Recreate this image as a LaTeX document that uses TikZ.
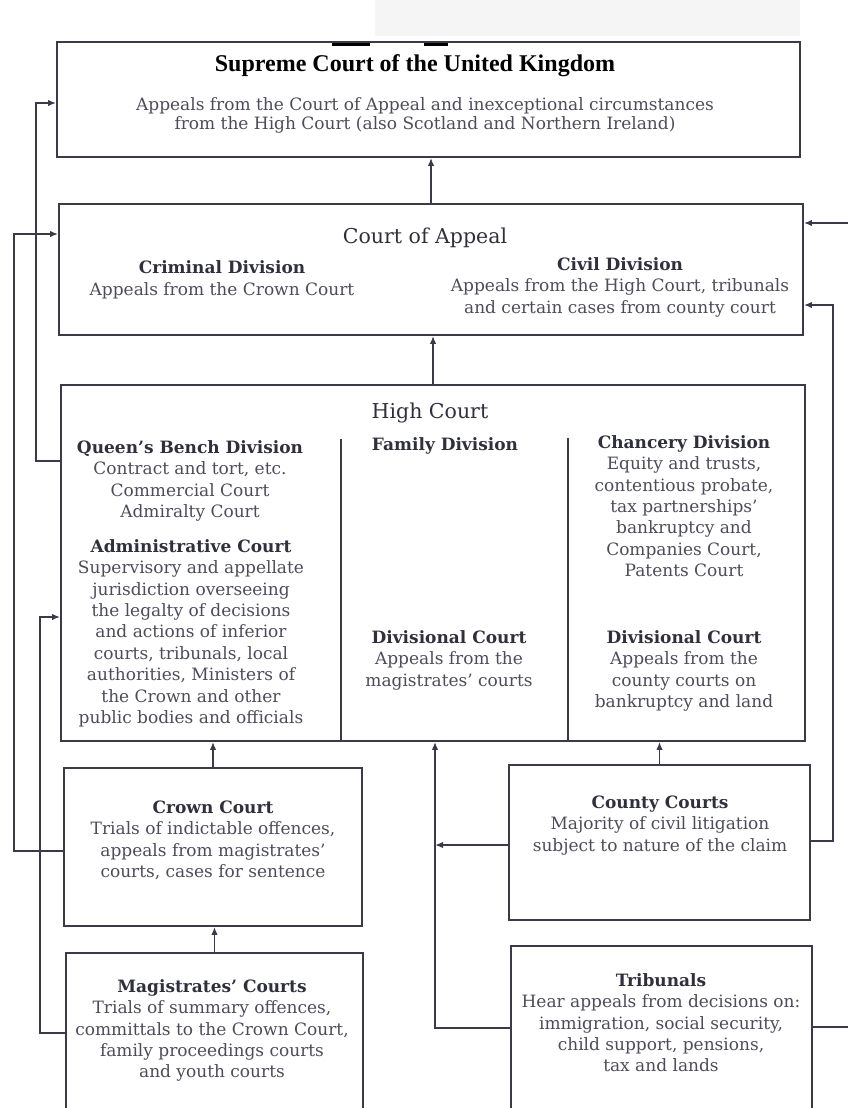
\documentclass[tikz,border=0pt]{standalone}
\usepackage{fontspec}
\setmainfont{DejaVu Serif}
\newfontfamily\titlefont{Liberation Serif}
\usetikzlibrary{arrows.meta}
\definecolor{linec}{RGB}{58,58,72}
\definecolor{bodyc}{RGB}{76,76,90}
\definecolor{headc}{RGB}{48,48,60}
\tikzset{
  courtbox/.style={draw=linec, line width=1.9pt, inner sep=0pt},
  arr/.style={draw=linec, line width=1.5pt, -{Latex[length=8pt,width=6.5pt]}},
  blk/.style={inner sep=0pt, anchor=north, align=center, text=bodyc,
     font=\fontsize{17}{21.4}\selectfont},
  hd/.style={inner sep=0pt, anchor=base, text=headc, font=\fontsize{20.5}{23}\selectfont},
}
\newcommand{\hb}[1]{{\color{headc}\bfseries #1}}
\newcommand{\fl}{\rule{0pt}{14pt}}
\begin{document}
\begin{tikzpicture}[x=1pt,y=-1pt]
\useasboundingbox (0,0) rectangle (848,1108);
% scan artefacts
\fill[black!4] (375,0) rectangle (800,36);
\fill[black] (332,42) rectangle (370,46);
\fill[black] (424,42) rectangle (448,46);

% boxes
\node[courtbox, minimum width=743pt, minimum height=115pt] (sup) at (428.5,99.5) {};
\node[courtbox, minimum width=744pt, minimum height=131pt] (coa) at (431,269.5) {};
\node[courtbox, minimum width=744pt, minimum height=356pt] (high) at (433,563) {};
\node[courtbox, minimum width=298pt, minimum height=158pt] (crown) at (213,847) {};
\node[courtbox, minimum width=297pt, minimum height=170pt] (mag) at (214.5,1038) {};
\node[courtbox, minimum width=301pt, minimum height=155pt] (county) at (659.5,842.5) {};
\node[courtbox, minimum width=301pt, minimum height=176pt] (trib) at (661.5,1034) {};

% dividers in High Court
\coordinate (d1) at (341,439);
\coordinate (d2) at (568,438);
\draw[linec, line width=1.3pt] (d1) -- (d1 |- high.south);
\draw[linec, line width=1.3pt] (d2) -- (d2 |- high.south);

% texts
\node[inner sep=0pt, anchor=base, text=black, font=\titlefont\bfseries\fontsize{24}{26}\selectfont] (supT) at (415,71) {Supreme Court of the United Kingdom};
\node[blk, font=\fontsize{17}{19}\selectfont] (supD) at (425,96) {\fl Appeals from the Court of Appeal and inexceptional circumstances\\from the High Court (also Scotland and Northern Ireland)};

\node[hd] (coaT) at (425,243) {Court of Appeal};
\node[blk, font=\fontsize{17}{22}\selectfont] (crim) at (222,259) {\fl\hb{Criminal Division}\\Appeals from the Crown Court};
\node[blk] (civ) at (620,256) {\fl\hb{Civil Division}\\Appeals from the High Court, tribunals\\and certain cases from county court};

\node[hd] (highT) at (430,418) {High Court};
\node[blk] (qbd) at (190,439) {\fl\hb{Queen's Bench Division}\\Contract and tort, etc.\\Commercial Court\\Admiralty Court};
\node[blk] (adm) at (191,538) {\fl\hb{Administrative Court}\\Supervisory and appellate\\jurisdiction overseeing\\the legalty of decisions\\and actions of inferior\\courts, tribunals, local\\authorities, Ministers of\\the Crown and other\\public bodies and officials};
\node[blk] (fam) at (445,436) {\fl\hb{Family Division}};
\node[blk] (div1) at (449,629) {\fl\hb{Divisional Court}\\Appeals from the\\magistrates' courts};
\node[blk] (chan) at (684,434) {\fl\hb{Chancery Division}\\Equity and trusts,\\contentious probate,\\tax partnerships'\\bankruptcy and\\Companies Court,\\Patents Court};
\node[blk] (div2) at (684,629) {\fl\hb{Divisional Court}\\Appeals from the\\county courts on\\bankruptcy and land};

\node[blk] (crownT) at (213,799) {\fl\hb{Crown Court}\\Trials of indictable offences,\\appeals from magistrates'\\courts, cases for sentence};
\node[blk] (magT) at (212,978) {\fl\hb{Magistrates' Courts}\\Trials of summary offences,\\committals to the Crown Court,\\family proceedings courts\\and youth courts};
\node[blk] (countyT) at (660,794) {\fl\hb{County Courts}\\Majority of civil litigation\\subject to nature of the claim};
\node[blk] (tribT) at (661,972) {\fl\hb{Tribunals}\\Hear appeals from decisions on:\\immigration, social security,\\child support, pensions,\\tax and lands};

% vertical arrows
\draw[arr] (coa.north) -- (coa.north |- sup.south);
\draw[arr] (high.north) -- (high.north |- coa.south);
\draw[arr] (crown.north) -- (crown.north |- high.south);
\draw[arr] (mag.north) -- (mag.north |- crown.south);
\draw[arr] (county.north) -- (county.north |- high.south);

% routed connectors
\coordinate (p1) at (14,851);  \coordinate (p2) at (14,234);
\draw[arr] (crown.west |- p1) -- (p1) -- (p2) -- (coa.west |- p2);
\coordinate (p3) at (36,461);  \coordinate (p4) at (36,103);
\draw[arr] (high.west |- p3) -- (p3) -- (p4) -- (sup.west |- p4);
\coordinate (p5) at (40,1033); \coordinate (p6) at (40,617);
\draw[arr] (mag.west |- p5) -- (p5) -- (p6) -- (high.west |- p6);
\coordinate (p7) at (435,1028);
\draw[arr] (trib.west |- p7) -- (p7) -- (p7 |- high.south);
\coordinate (p8) at (435,845);
\draw[arr] (county.west |- p8) -- (p8);
\coordinate (p9) at (833,841); \coordinate (p10) at (833,305);
\draw[arr] (county.east |- p9) -- (p9) -- (p10) -- (coa.east |- p10);
\coordinate (p11) at (858,1027); \coordinate (p12) at (858,223);
\draw[arr] (trib.east |- p11) -- (p11) -- (p12) -- (coa.east |- p12);
\end{tikzpicture}
\end{document}
